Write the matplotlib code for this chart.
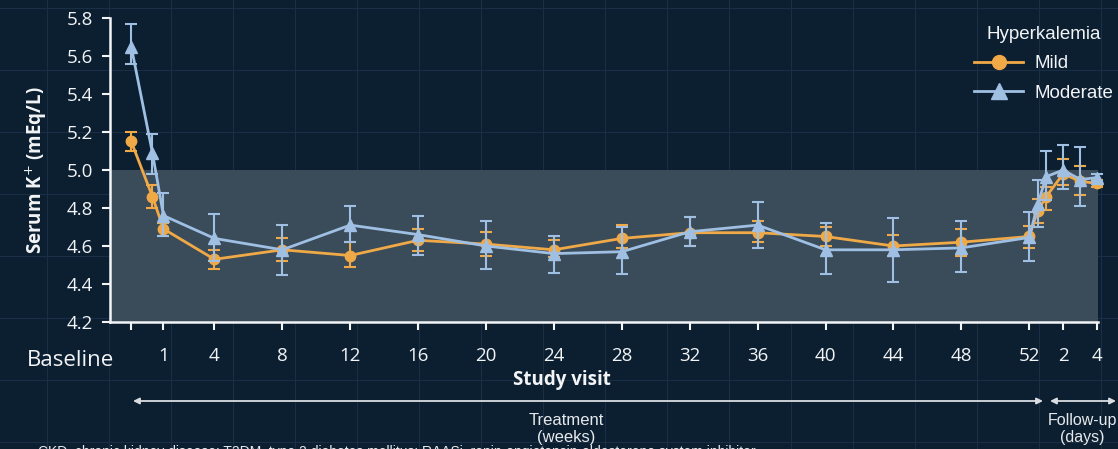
import matplotlib
matplotlib.use("Agg")
import matplotlib.pyplot as plt
from matplotlib.lines import Line2D
from matplotlib.patches import FancyArrowPatch
import numpy as np

# Visit positions on the plotting axis (weeks; follow-up days continue after week 52)
visit_pos = [-0.9, 0.35, 1, 4, 8, 12, 16, 20, 24, 28, 32, 36, 40, 44, 48, 52, 52.5, 53, 54, 55, 56]

# Mean serum K+ (mEq/L) with error-bar limits
mild_mean = [5.15, 4.86, 4.69, 4.53, 4.58, 4.55, 4.63, 4.61, 4.58, 4.64, 4.67, 4.67, 4.65, 4.60, 4.62, 4.65, 4.785, 4.86, 4.98, 4.94, 4.93]
mild_low = [5.10, 4.80, 4.65, 4.48, 4.52, 4.49, 4.575, 4.55, 4.54, 4.59, 4.60, 4.62, 4.60, 4.55, 4.55, 4.59, 4.72, 4.79, 4.92, 4.87, 4.91]
mild_high = [5.20, 4.92, 4.72, 4.58, 4.64, 4.62, 4.69, 4.675, 4.63, 4.71, 4.755, 4.73, 4.70, 4.66, 4.69, 4.705, 4.85, 4.91, 5.06, 5.02, 4.95]

moderate_mean = [5.65, 5.09, 4.76, 4.64, 4.58, 4.71, 4.66, 4.60, 4.56, 4.57, 4.675, 4.71, 4.58, 4.58, 4.59, 4.645, 4.82, 4.965, 5.00, 4.95, 4.96]
moderate_low = [5.56, 4.98, 4.65, 4.52, 4.45, 4.62, 4.555, 4.48, 4.46, 4.455, 4.60, 4.59, 4.455, 4.41, 4.465, 4.52, 4.70, 4.84, 4.90, 4.81, 4.94]
moderate_high = [5.77, 5.19, 4.88, 4.77, 4.71, 4.81, 4.76, 4.73, 4.65, 4.70, 4.755, 4.83, 4.72, 4.75, 4.73, 4.78, 4.95, 5.10, 5.13, 5.12, 4.98]

tick_pos = [-0.9, 1, 4, 8, 12, 16, 20, 24, 28, 32, 36, 40, 44, 48, 52, 54, 56]
tick_labels = ["", "1", "4", "8", "12", "16", "20", "24", "28", "32", "36", "40", "44", "48", "52", "2", "4"]
y_ticks = [4.2, 4.4, 4.6, 4.8, 5.0, 5.2, 5.4, 5.6, 5.8]
normal_range = (4.2, 5.0)

BG = "#0c1f31"
SHADE = "#3a4b5a"
ORANGE = "#f0a947"
BLUE = "#9fbfe3"
WHITE = "#f2f4f6"
W, H = 1118, 449

fig = plt.figure(figsize=(W / 100, H / 100), dpi=100, facecolor=BG)

# faint background grid of the slide
for gx in np.arange(47, W, 62):
    fig.add_artist(Line2D([gx / W, gx / W], [0, 1], transform=fig.transFigure,
                          color="#1a2f44", lw=0.8, zorder=0))
for gy in np.arange(8, H, 62):
    fig.add_artist(Line2D([0, 1], [1 - gy / H, 1 - gy / H], transform=fig.transFigure,
                          color="#1a2f44", lw=0.8, zorder=0))

ax = fig.add_axes([110 / W, 1 - 322 / H, 988 / W, 304 / H])
ax.set_facecolor("none")
ax.set_xlim(-2.15, 56.05)
ax.set_ylim(4.2, 5.8)

ax.axhspan(normal_range[0], normal_range[1], color=SHADE, zorder=0.5, lw=0)

def draw_series(mean, low, high, color, marker, ms, z):
    mean = np.array(mean)
    yerr = [mean - np.array(low), np.array(high) - mean]
    cont = ax.errorbar(visit_pos, mean, yerr=yerr, color=color, marker=marker, ms=ms,
                       lw=2.0, elinewidth=1.5, capsize=4.5, capthick=1.5, zorder=z)
    for art in cont.get_children():
        art.set_clip_on(False)

draw_series(mild_mean, mild_low, mild_high, ORANGE, "o", 7.5, 3)
draw_series(moderate_mean, moderate_low, moderate_high, BLUE, "^", 9, 4)

for side in ["top", "right"]:
    ax.spines[side].set_visible(False)
for side in ["left", "bottom"]:
    ax.spines[side].set_color(WHITE)
    ax.spines[side].set_linewidth(1.8)

ax.set_yticks(y_ticks)
ax.set_yticklabels([f"{v:.1f}" for v in y_ticks], fontsize=13.5, color=WHITE, family="Open Sans")
ax.set_xticks(tick_pos)
ax.set_xticklabels(tick_labels, fontsize=13.5, color=WHITE, family="Open Sans")
ax.tick_params(axis="y", colors=WHITE, length=6, width=1.5, pad=6, labelcolor=WHITE)
ax.tick_params(axis="x", colors=WHITE, length=6, width=1.5, pad=12, labelcolor=WHITE)

ax.set_ylabel("Serum K$^{+}$ (mEq/L)", fontsize=13.5, color=WHITE, fontweight="bold",
              family="Open Sans", labelpad=13)

fig.text(114 / W, 1 - 360 / H, "Baseline", ha="right", va="center", fontsize=16,
         color=WHITE, family="Open Sans")
fig.text(562 / W, 1 - 380 / H, "Study visit", ha="center", va="center", fontsize=13.5,
         color=WHITE, fontweight="bold", family="Open Sans")

# treatment / follow-up spans
arrow_y = 1 - 401 / H
arrow_kw = dict(arrowstyle="<|-|>", color="#d9dde2", lw=1.3, mutation_scale=9,
                shrinkA=0, shrinkB=0)
fig.patches.append(FancyArrowPatch((133 / W, arrow_y), (1043 / W, arrow_y),
                                   transform=fig.transFigure, **arrow_kw))
fig.patches.append(FancyArrowPatch((1050 / W, arrow_y), (1116 / W, arrow_y),
                                   transform=fig.transFigure, **arrow_kw))

narrow = ["Liberation Sans Narrow", "Liberation Sans", "DejaVu Sans"]
fig.text(566 / W, 1 - 429 / H, "Treatment\n(weeks)", ha="center", va="center",
         fontsize=12, color="#e6e9ec", family=narrow, linespacing=1.1)
fig.text(1082 / W, 1 - 429 / H, "Follow-up\n(days)", ha="center", va="center",
         fontsize=11.5, color="#e6e9ec", family=narrow, linespacing=1.1)

fig.text(38 / W, -7 / H, "CKD, chronic kidney disease; T2DM, type 2 diabetes mellitus; "
         "RAASi, renin-angiotensin-aldosterone system inhibitor", ha="left",
         va="baseline", fontsize=10, color="#e6e9ec", family="Liberation Sans")

handles = [
    Line2D([], [], color=ORANGE, marker="o", ms=10, lw=2.0, label="Mild"),
    Line2D([], [], color=BLUE, marker="^", ms=11, lw=2.0, label="Moderate"),
]
leg = ax.legend(handles=handles, loc="upper right", bbox_to_anchor=(1113 / W, 1 - 26 / H),
                bbox_transform=fig.transFigure, frameon=False, title="Hyperkalemia",
                prop={"family": "Liberation Sans", "size": 13.5}, handlelength=2.6,
                handletextpad=0.6, labelspacing=0.65, borderaxespad=0, borderpad=0)
leg.get_title().set_color(WHITE)
leg.get_title().set_fontfamily("Liberation Sans")
leg.get_title().set_fontsize(13.5)
for t in leg.get_texts():
    t.set_color(WHITE)

fig.savefig("out.png", dpi=100, facecolor=BG)
